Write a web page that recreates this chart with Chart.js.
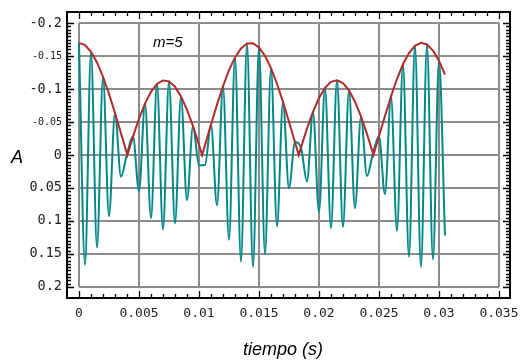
<!DOCTYPE html>
<html>
<head>
<meta charset="utf-8">
<script src="https://cdn.jsdelivr.net/npm/chart.js@4"></script>
<style>
  html, body { margin: 0; padding: 0; background: #fff; }
  #wrap { width: 527px; height: 364px; }
</style>
</head>
<body>
<div id="wrap"><canvas id="Grafica" width="527" height="364"></canvas></div>
<script>
// tiempo (s) de cada pico de la portadora
const tiempo = [0, 0.0005, 0.001, 0.0015, 0.002, 0.0025, 0.003, 0.0035, 0.004, 0.0045,
  0.005, 0.0055, 0.006, 0.0065, 0.007, 0.0075, 0.008, 0.0085, 0.009, 0.0095,
  0.01, 0.0105, 0.011, 0.0115, 0.012, 0.0125, 0.013, 0.0135, 0.014, 0.0145,
  0.015, 0.0155, 0.016, 0.0165, 0.017, 0.0175, 0.018, 0.0185, 0.019, 0.0195,
  0.02, 0.0205, 0.021, 0.0215, 0.022, 0.0225, 0.023, 0.0235, 0.024, 0.0245,
  0.025, 0.0255, 0.026, 0.0265, 0.027, 0.0275, 0.028, 0.0285, 0.029, 0.0295,
  0.03, 0.0305];
// señal modulada (m=5)
const senal = [-0.170, 0.1666, -0.1565, 0.1403, -0.1186, 0.0926, -0.0636, 0.0328, -0.0018, -0.0279,
  0.0549, -0.0779, 0.0958, -0.1077, 0.1130, -0.1116, 0.1034, -0.0888, 0.0686, -0.0438,
  0.0154, 0.0150, -0.0461, 0.0763, -0.1042, 0.1285, -0.1479, 0.1616, -0.1689, 0.1694,
  -0.1631, 0.1502, -0.1316, 0.1080, -0.0805, 0.0505, -0.0194, -0.0112, 0.0399, -0.0653,
  0.0863, -0.1017, 0.1108, -0.1133, 0.1089, -0.0979, 0.0808, -0.0585, 0.0320, -0.0026,
  -0.0283, 0.0592, -0.0886, 0.1151, -0.1375, 0.1545, -0.1655, 0.1699, -0.1675, 0.1583,
  -0.1429, 0.1220];
// envolvente
const tEnv = [0, 0.0005, 0.001, 0.0015, 0.002, 0.0025, 0.003, 0.0035, 0.004, 0.00403, 0.0045,
  0.005, 0.0055, 0.006, 0.0065, 0.007, 0.0075, 0.008, 0.0085, 0.009, 0.0095,
  0.01, 0.01026, 0.0105, 0.011, 0.0115, 0.012, 0.0125, 0.013, 0.0135, 0.014, 0.0145,
  0.015, 0.0155, 0.016, 0.0165, 0.017, 0.0175, 0.018, 0.01831, 0.0185, 0.019, 0.0195,
  0.02, 0.0205, 0.021, 0.0215, 0.022, 0.0225, 0.023, 0.0235, 0.024, 0.0245, 0.02454,
  0.025, 0.0255, 0.026, 0.0265, 0.027, 0.0275, 0.028, 0.0285, 0.029, 0.0295,
  0.03, 0.0305];
const envolvente = [-0.170, -0.1666, -0.1565, -0.1403, -0.1186, -0.0926, -0.0636, -0.0328, -0.0018, 0, -0.0279,
  -0.0549, -0.0779, -0.0958, -0.1077, -0.1130, -0.1116, -0.1034, -0.0888, -0.0686, -0.0438,
  -0.0154, 0, -0.0150, -0.0461, -0.0763, -0.1042, -0.1285, -0.1479, -0.1616, -0.1689, -0.1694,
  -0.1631, -0.1502, -0.1316, -0.1080, -0.0805, -0.0505, -0.0194, 0, -0.0112, -0.0399, -0.0653,
  -0.0863, -0.1017, -0.1108, -0.1133, -0.1089, -0.0979, -0.0808, -0.0585, -0.0320, -0.0026, 0,
  -0.0283, -0.0592, -0.0886, -0.1151, -0.1375, -0.1545, -0.1655, -0.1699, -0.1675, -0.1583,
  -0.1429, -0.1220];

const ticksX = [0, 0.005, 0.01, 0.015, 0.02, 0.025, 0.03, 0.035];
const labelsX = ["0", "0.005", "0.01", "0.015", "0.02", "0.025", "0.03", "0.035"];
const ticksY = [-0.2, -0.15, -0.1, -0.05, 0, 0.05, 0.1, 0.15, 0.2];
const labelsY = ["-0.2", "-0.15", "-0.1", "-0.05", "0", "0.05", "0.1", "0.15", "0.2"];

const mono = '"DejaVu Sans Mono", monospace';

const marco = {
  id: 'marco',
  beforeDatasetsDraw(chart) {
    const c = chart.ctx, x = chart.scales.x, y = chart.scales.y;
    c.save();
    c.strokeStyle = '#8c8c8c';
    c.lineWidth = 2;
    ticksX.forEach(v => {
      const px = Math.round(x.getPixelForValue(v));
      c.beginPath();
      c.moveTo(px, y.getPixelForValue(-0.2));
      c.lineTo(px, y.getPixelForValue(0.2));
      c.stroke();
    });
    ticksY.forEach(v => {
      const py = Math.round(y.getPixelForValue(v));
      c.beginPath();
      c.moveTo(x.getPixelForValue(0), py);
      c.lineTo(x.getPixelForValue(0.035), py);
      c.stroke();
    });
    c.restore();
  },
  afterDatasetsDraw(chart) {
    const c = chart.ctx, a = chart.chartArea, x = chart.scales.x, y = chart.scales.y;
    c.save();
    c.strokeStyle = '#000';
    c.lineWidth = 2;
    c.strokeRect(a.left, a.top, a.right - a.left, a.bottom - a.top);
    c.lineWidth = 1.3;
    // ticks x (abajo y arriba)
    for (let i = 0; i <= 35; i++) {
      const px = Math.round(x.getPixelForValue(i * 0.001)) + 0.5;
      const len = i % 5 === 0 ? 7 : 4;
      c.beginPath();
      c.moveTo(px, a.bottom); c.lineTo(px, a.bottom - len);
      c.moveTo(px, a.top); c.lineTo(px, a.top + len);
      c.stroke();
    }
    // ticks y (izquierda y derecha)
    for (let i = -40; i <= 40; i++) {
      const py = Math.round(y.getPixelForValue(i * 0.005)) + 0.5;
      const len = i % 10 === 0 ? 7 : 4;
      c.beginPath();
      c.moveTo(a.left, py); c.lineTo(a.left + len, py);
      c.moveTo(a.right, py); c.lineTo(a.right - len, py);
      c.stroke();
    }
    c.fillStyle = '#222';
    c.textBaseline = 'middle';
    c.textAlign = 'center';
    c.font = '13px ' + mono;
    ticksX.forEach((v, i) => c.fillText(labelsX[i], x.getPixelForValue(v), 314));
    c.textAlign = 'right';
    ticksY.forEach((v, i) => {
      c.font = (v === -0.15 || v === -0.05 ? '10px ' : '13.5px ') + mono;
      c.fillText(labelsY[i], 62, y.getPixelForValue(v));
    });
    c.fillStyle = '#000';
    c.font = 'italic 18px "Liberation Sans", Arial, sans-serif';
    c.textAlign = 'center';
    c.fillText('tiempo (s)', 283, 350);
    c.fillText('A', 17, 158);
    c.font = 'italic 15px "Liberation Sans", Arial, sans-serif';
    c.textAlign = 'left';
    c.fillText('m=5', 153, 43);
    c.restore();
  }
};

const ctx = document.querySelector('#Grafica').getContext('2d');
const myChart = new Chart(ctx, {
  type: 'line',
  data: {
    datasets: [{
      label: 'envolvente',
      data: tEnv.map((t, i) => ({x: t, y: envolvente[i]})),
      borderColor: '#b22a2a',
      borderWidth: 2,
      pointRadius: 0,
      tension: 0,
      order: 0
    }, {
      label: 'senal',
      data: tiempo.map((t, i) => ({x: t, y: senal[i]})),
      borderColor: '#008787',
      borderWidth: 2,
      pointRadius: 0,
      cubicInterpolationMode: 'monotone',
      order: 1
    }]
  },
  options: {
    responsive: false,
    animation: false,
    layout: {padding: {left: 67, top: 12, right: 17, bottom: 66}},
    plugins: {legend: {display: false}, tooltip: {enabled: false}},
    scales: {
      x: {type: 'linear', display: false, min: -0.001, max: 0.03592},
      y: {type: 'linear', display: false, reverse: true, min: -0.2167, max: 0.2167}
    }
  },
  plugins: [marco]
});
</script>
</body>
</html>
